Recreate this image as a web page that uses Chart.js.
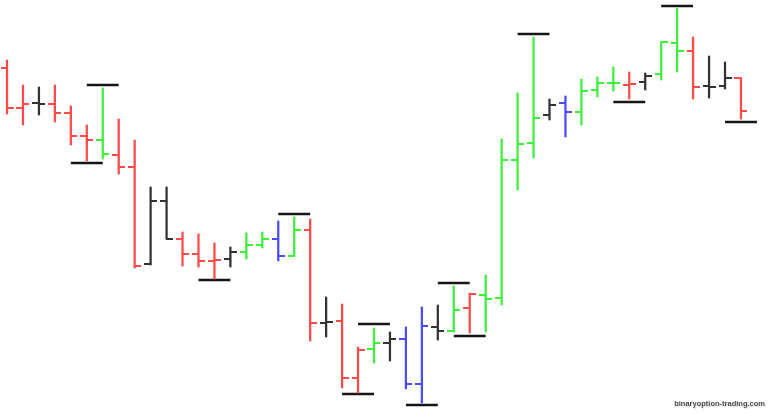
<!DOCTYPE html>
<html>
<head>
<meta charset="utf-8">
<script src="https://cdn.jsdelivr.net/npm/chart.js@4"></script>
<style>
  html, body { margin: 0; padding: 0; background: #ffffff; }
  #wrap { position: relative; width: 770px; height: 414px; }
  #wm { position: absolute; right: 5px; top: 399px; font: bold 7.5px "Liberation Sans", Arial, sans-serif;
        color: #4a4a4a; text-shadow: 0 0 1px #fff, 1px 1px 0 #ddd; white-space: nowrap; }
</style>
</head>
<body>
<div id="wrap">
  <canvas id="c" width="770" height="414"></canvas>
  <div id="wm">binaryoption-trading.com</div>
</div>
<script>
// OHLC price data (arbitrary price units), one entry per bar
const opens  = [346,306,311,310,301,278,274,259,247,150,213,175,160,153,155,162,169,175,158,184,91,93,36,65,71,75,30,87,83,106,119,116,254,271,299,311,302,324,331,329,332,340,371,363,328,328,336];
const highs  = [354,329,327,329,308,289,326,295,274,227,227,182,180,171,167,181,182,193,197,195,117,110,67,86,82,87,107,109,128,121,139,275,321,377,315,318,335,337,347,342,341,372,406,377,358,352,336];
const lows   = [300,289,299,292,269,253,255,240,146,149,175,148,147,135,147,155,166,153,158,73,77,26,21,51,53,25,11,74,82,81,82,109,224,256,294,277,289,317,323,315,324,334,342,315,316,325,295];
const closes = [306,310,310,301,278,274,260,247,148,213,175,160,153,154,162,169,175,158,184,91,92,36,64,71,75,30,88,83,104,120,115,254,270,296,309,302,323,331,331,330,338,372,363,327,327,336,303];
const barColor = ['red','red','black','red','red','red','green','red','red','black','black','red','red','red','black','green','green','blue','green','red','black','red','red','green','black','blue','blue','black','green','red','green','green','green','green','black','blue','green','green','green','red','black','green','green','red','black','black','red'];

// Fractal markers: bar index (0-based) and level
const fractalHighBars   = [6, 18, 23, 28, 33, 42];
const fractalHighLevels = [329, 200, 90, 131, 380, 408];
const fractalLowBars    = [5, 13, 22, 26, 29, 39, 46];
const fractalLowLevels  = [251, 134, 20, 9, 78, 312, 292];

const palette = { red: '#ff4a4a', green: '#3cf03c', blue: '#4a4aff', black: '#333333' };

function makeTick(color, side) {
  const c = document.createElement('canvas');
  c.width = 13; c.height = 2;
  const g = c.getContext('2d');
  g.fillStyle = color;
  if (side === 'left') g.fillRect(0, 0, 7, 2); else g.fillRect(6, 0, 7, 2);
  return c;
}
const leftTicks = {}, rightTicks = {};
for (const k in palette) { leftTicks[k] = makeTick(palette[k], 'left'); rightTicks[k] = makeTick(palette[k], 'right'); }

const idx = opens.map((_, i) => i);
const rangeData = idx.map(i => ({ x: i, y: [lows[i], highs[i]] }));
const openData  = idx.map(i => ({ x: i, y: opens[i] }));
const closeData = idx.map(i => ({ x: i, y: closes[i] }));

const fractalData = [];
function addFractals(bars, levels) {
  bars.forEach((b, j) => {
    fractalData.push({ x: b - 1, y: levels[j] }, { x: b + 1, y: levels[j] }, { x: b + 1, y: null });
  });
}
addFractals(fractalHighBars, fractalHighLevels);
addFractals(fractalLowBars, fractalLowLevels);

new Chart(document.getElementById('c'), {
  type: 'scatter',
  data: {
    datasets: [
      {
        type: 'bar',
        data: rangeData,
        backgroundColor: idx.map(i => palette[barColor[i]]),
        borderWidth: 0,
        barThickness: 1.6,
        grouped: false
      },
      {
        type: 'scatter',
        data: openData,
        pointStyle: ctx => leftTicks[barColor[ctx.dataIndex]],
        pointRadius: 3,
        showLine: false
      },
      {
        type: 'scatter',
        data: closeData,
        pointStyle: ctx => rightTicks[barColor[ctx.dataIndex]],
        pointRadius: 3,
        showLine: false
      },
      {
        type: 'line',
        data: fractalData,
        borderColor: '#151515',
        borderWidth: 2.6,
        borderCapStyle: 'butt',
        pointRadius: 0,
        spanGaps: false,
        fill: false
      }
    ]
  },
  options: {
    responsive: false,
    animation: false,
    events: [],
    layout: { padding: 0, autoPadding: false },
    plugins: { legend: { display: false }, tooltip: { enabled: false }, title: { display: false } },
    scales: {
      x: { type: 'linear', display: false, offset: false, min: -0.44, max: 47.82, grid: { display: false } },
      y: { type: 'linear', display: false, min: 0, max: 414, grid: { display: false } }
    }
  }
});
</script>
</body>
</html>
